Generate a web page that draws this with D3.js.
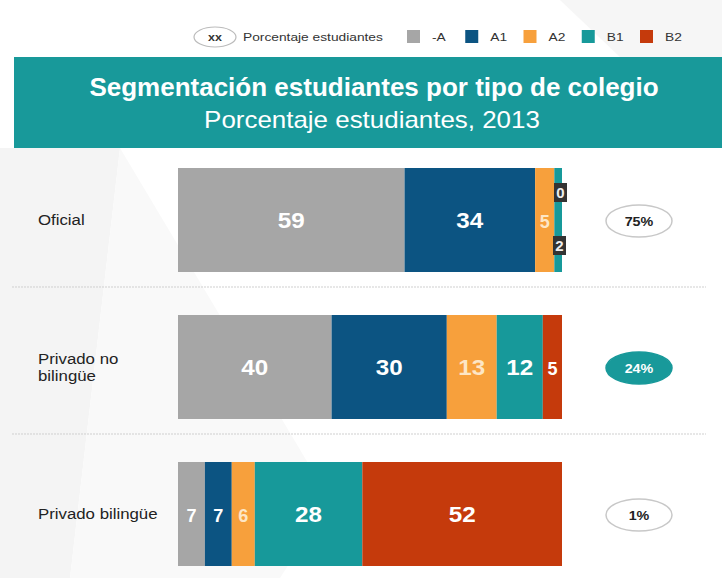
<!DOCTYPE html>
<html>
<head>
<meta charset="utf-8">
<script src="https://cdn.jsdelivr.net/npm/d3@7"></script>
<style>
  body { margin: 0; background: #fff; }
  svg { font-family: 'Liberation Sans', Arial, sans-serif; display: block; }
</style>
</head>
<body>
<div id="chart"></div>
<script>
// categorias (filas) y niveles (segmentos)
const categories = ['Oficial', 'Privado no\nbilingüe', 'Privado bilingüe']
const levels = ['-A', 'A1', 'A2', 'B1', 'B2']
const valuesMenosA = [59, 40, 7]
const valuesA1 = [34, 30, 7]
const valuesA2 = [5, 13, 6]
const valuesB1 = [2, 12, 28]
const valuesB2 = [0, 5, 52]
const shares = ['75%', '24%', '1%']

const colors = ['#a6a6a6', '#0c5482', '#f7a03c', '#17999a', '#c53a0c']
const labelColors = ['#fff', '#fff', '#fde6c6', '#fff', '#fff']

const width = 722, height = 578
const stretch = 1.25   // la imagen original esta estirada en horizontal

const svg = d3.select('#chart').append('svg')
    .attr('width', width)
    .attr('height', height)

// estira el texto horizontalmente
function widen(sel, k = stretch) {
    sel.each(function() {
        const w = this.getComputedTextLength()
        d3.select(this)
            .attr('textLength', w * k)
            .attr('lengthAdjust', 'spacingAndGlyphs')
    })
    return sel
}

// fondo con formas grises suaves
svg.append('path')
    .attr('d', 'M0,148 L120,148 L70,578 L0,578 Z')
    .attr('fill', '#f4f4f4')
svg.append('path')
    .attr('d', 'M120,148 L70,578 L280,578 L330,500 Z')
    .attr('fill', '#f9f9f9')
svg.append('path')
    .attr('d', 'M560,0 L722,0 L722,57 L620,57 Z')
    .attr('fill', '#f6f6f6')

// leyenda
const legend = svg.append('g')
legend.append('ellipse')
    .attr('cx', 215).attr('cy', 37).attr('rx', 21).attr('ry', 10)
    .attr('fill', '#fff').attr('stroke', '#bbb').attr('stroke-width', 1.2)
widen(legend.append('text')
    .attr('x', 215).attr('y', 41).attr('text-anchor', 'middle')
    .attr('font-size', 10).attr('font-weight', 'bold').attr('fill', '#333')
    .text('xx'))
widen(legend.append('text')
    .attr('x', 243).attr('y', 41)
    .attr('font-size', 11).attr('fill', '#333')
    .text('Porcentaje estudiantes'))

const legendX = d3.scalePoint().domain(levels).range([407, 640])
levels.forEach((l, i) => {
    legend.append('rect')
        .attr('x', legendX(l)).attr('y', 30)
        .attr('width', 13).attr('height', 13)
        .attr('fill', colors[i])
    widen(legend.append('text')
        .attr('x', legendX(l) + 25).attr('y', 41)
        .attr('font-size', 11).attr('fill', '#333')
        .text(l))
})

// banner
svg.append('rect')
    .attr('x', 14).attr('y', 57).attr('width', width - 14).attr('height', 91)
    .attr('fill', '#18999a')
widen(svg.append('text')
    .attr('x', 374).attr('y', 96).attr('text-anchor', 'middle')
    .attr('font-size', 25).attr('font-weight', 'bold').attr('fill', '#fff')
    .text('Segmentación estudiantes por tipo de colegio'), 1.04)
widen(svg.append('text')
    .attr('x', 372).attr('y', 128).attr('text-anchor', 'middle')
    .attr('font-size', 24).attr('fill', '#fff')
    .text('Porcentaje estudiantes, 2013'), 1.08)

// escalas
const xScale = d3.scaleLinear().domain([0, 100]).range([178, 562])
const yScale = d3.scaleBand()
    .domain(categories)
    .range([168, 566])
    .paddingInner(43 / 147)
    .paddingOuter(0)
const bh = yScale.bandwidth()

const rows = categories.map((c, i) => {
    const vals = [valuesMenosA[i], valuesA1[i], valuesA2[i], valuesB1[i], valuesB2[i]]
    let acc = 0
    return vals.map((v, j) => {
        const seg = { cat: c, level: levels[j], value: v, x0: acc, x1: acc + v, idx: j }
        acc += v
        return seg
    })
})

// separadores
categories.slice(1).forEach(c => {
    const y = yScale(c) - 28
    svg.append('line')
        .attr('x1', 12).attr('x2', 706)
        .attr('y1', y).attr('y2', y)
        .attr('stroke', '#cfcfcf').attr('stroke-width', 1)
        .attr('stroke-dasharray', '2,1')
})

rows.forEach((segs, i) => {
    const c = categories[i]
    const y0 = yScale(c)
    const cy = y0 + bh / 2
    const g = svg.append('g')

    g.selectAll('rect')
        .data(segs.filter(d => d.value > 0))
        .enter()
        .append('rect')
        .attr('x', d => xScale(d.x0))
        .attr('y', y0)
        .attr('width', d => xScale(d.x1) - xScale(d.x0))
        .attr('height', bh)
        .attr('fill', d => colors[d.idx])

    // etiquetas dentro
    segs.forEach(d => {
        const w = xScale(d.x1) - xScale(d.x0)
        const mx = (xScale(d.x0) + xScale(d.x1)) / 2
        if (w >= 14) {
            widen(g.append('text')
                .attr('x', mx).attr('y', cy + 8)
                .attr('text-anchor', 'middle')
                .attr('font-size', w < 30 ? 19 : 22)
                .attr('font-weight', 'bold')
                .attr('fill', labelColors[d.idx])
                .text(d.value), w < 30 ? 0.95 : 1.1)
        } else {
            // valores pequeños en caja oscura
            const above = d.value === 0
            const bx = above ? xScale(d.x1) - 8 : xScale(d.x1) - 9
            const by = above ? y0 + 15 : y0 + 68
            g.append('rect')
                .attr('x', bx).attr('y', by)
                .attr('width', 13).attr('height', 19)
                .attr('fill', '#333')
            g.append('text')
                .attr('x', bx + 6.5).attr('y', by + 15)
                .attr('text-anchor', 'middle')
                .attr('font-size', 15).attr('font-weight', 'bold')
                .attr('fill', '#eee')
                .text(d.value)
        }
    })

    // nombre de la fila
    const lines = c.split('\n')
    const lbl = g.append('text')
        .attr('x', 38)
        .attr('font-size', 14).attr('fill', '#222')
    lines.forEach((ln, k) => {
        widen(lbl.append('tspan')
            .attr('x', 38)
            .attr('y', cy + 5 + (k - (lines.length - 1) / 2) * 17)
            .text(ln), 1.2)
    })

    // burbuja con el porcentaje
    const hl = i === 1
    g.append('ellipse')
        .attr('cx', 639).attr('cy', cy + 1).attr('rx', 33).attr('ry', 16)
        .attr('fill', hl ? '#18999a' : '#fff')
        .attr('stroke', hl ? '#18999a' : '#c8c8c8').attr('stroke-width', 1.5)
    widen(g.append('text')
        .attr('x', 639).attr('y', cy + 6)
        .attr('text-anchor', 'middle')
        .attr('font-size', 13).attr('font-weight', 'bold')
        .attr('fill', hl ? '#fff' : '#222')
        .text(shares[i]), 1.1)
})
</script>
</body>
</html>
